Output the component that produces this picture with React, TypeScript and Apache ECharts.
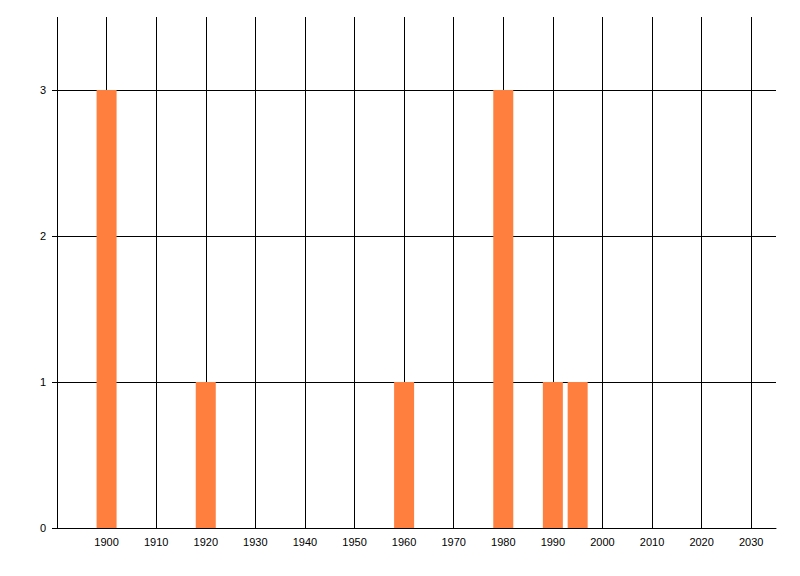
import React, { useEffect, useRef } from "react";
import * as echarts from "echarts";

const years = [1900, 1920, 1960, 1980, 1990, 1995];
const counts = [3, 1, 1, 3, 1, 1];
const xMin = 1890;
const xMax = 2035;
const yMin = 0;
const yMax = 3.5;
const yTicks = [0, 1, 2, 3];

export default function App() {
  const ref = useRef<HTMLDivElement>(null);
  useEffect(() => {
    if (!ref.current) return;
    const chart = echarts.init(ref.current, undefined, { renderer: "svg" });
    const font = "Liberation Sans";
    chart.setOption({
      animation: false,
      backgroundColor: "#ffffff",
      grid: { left: 57, right: 24, top: 17, bottom: 48, containLabel: false },
      xAxis: {
        type: "value",
        min: xMin,
        max: xMax,
        interval: 10,
        axisLine: { show: true, lineStyle: { color: "#000", width: 1 } },
        axisTick: { show: false },
        axisLabel: {
          show: true,
          color: "#000",
          fontFamily: font,
          fontSize: 11,
          margin: 8,
          showMinLabel: false,
          formatter: (v: number) => (v === xMin || v === xMax ? "" : String(v)),
        },
        splitLine: {
          show: true,
          showMinLine: true,
          showMaxLine: false,
          lineStyle: { color: "#000", width: 1 },
        },
      },
      yAxis: {
        type: "value",
        min: yMin,
        max: yMax,
        interval: 1,
        axisLine: { show: false },
        axisTick: {
          show: true,
          length: 5,
          lineStyle: { color: "#000", width: 1 },
          customValues: yTicks,
        },
        axisLabel: {
          color: "#000",
          fontFamily: font,
          fontSize: 11,
          margin: 11,
          customValues: yTicks,
          formatter: (v: number) => String(v),
        },
        splitLine: {
          show: true,
          showMaxLine: true,
          lineStyle: { color: "#000", width: 1 },
        },
      },
      series: [
        {
          type: "bar",
          barWidth: 20,
          itemStyle: { color: "#FF7F3F" },
          data: years.map((y, i) => [y, counts[i]]),
        },
      ],
    });
    return () => chart.dispose();
  }, []);
  return <div ref={ref} style={{ width: 800, height: 576, position: "absolute", left: 0, top: 0 }} />;
}
